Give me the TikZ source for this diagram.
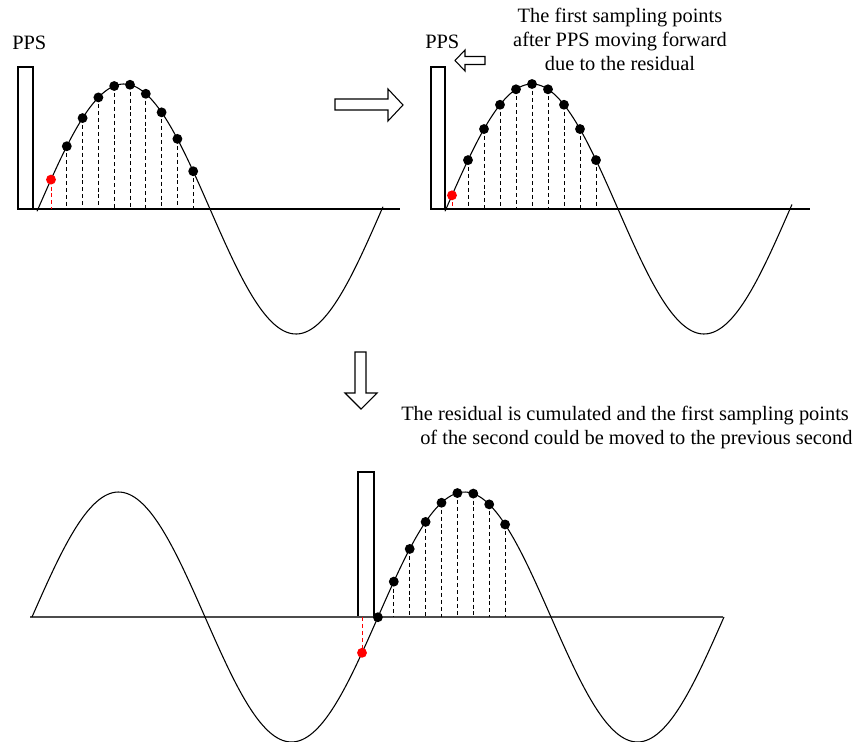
\documentclass[tikz,border=0pt]{standalone}
\usepackage{fontspec}
\setmainfont{Liberation Serif}

\tikzset{
  wave/.style={line width=0.8pt},
  axisline/.style={line width=0.9pt},
  ppsbox/.style={draw, line width=0.8pt},
  sampleline/.style={dash pattern=on 3pt off 2.2pt, line width=0.7pt},
  blockarrow/.style={draw, line width=0.8pt, fill=white},
  lbl/.style={font=\fontsize{15.3}{18}\selectfont, inner sep=0pt, anchor=base},
}

\begin{document}
\begin{tikzpicture}[x=0.75pt, y=-0.75pt]
    \useasboundingbox (0,0) rectangle (854,742);

    \node[lbl, anchor=base west] (pps1) at (12,50) {PPS};
    \draw[ppsbox] (18,67) rectangle (33,209);
    \draw[axisline] (18,209) -- (400,209);
    \draw[wave] plot[domain=37:383, samples=150, smooth] (\x,{209-125*sin((\x-38)*1.04651)});
    \foreach \k in {0,...,9} {
      \pgfmathsetmacro{\px}{51+15.8*\k}
      \coordinate (tl\k) at (\px,{209-125*sin((\px-38)*1.04651)});
      \coordinate (tlb\k) at (\px,209);
    }
    \foreach \k in {1,...,9} \draw[sampleline] (tl\k) -- (tlb\k);
    \foreach \k in {1,...,9} \fill (tl\k) circle (3.7pt);
    \draw[sampleline, red] (tl0) -- (tlb0);
    \fill[red] (tl0) circle (3.7pt);

    \draw[blockarrow] (335,99) -- (388,99) -- (388,89) -- (403,105) -- (388,121) -- (388,110) -- (335,110) -- cycle;

    \node[lbl, anchor=base west] (pps2) at (425,49) {PPS};
    \draw[blockarrow] (485,56.5) -- (465,56.5) -- (465,50) -- (455,60.5) -- (465,71) -- (465,64.5) -- (485,64.5) -- cycle;
    \node[lbl] (note1) at (620,23) {The first sampling points};
    \node[lbl] (note2) at (620,47) {after PPS moving forward};
    \node[lbl] (note3) at (620,71) {due to the residual};
    \draw[ppsbox] (431,67) rectangle (445,209);
    \draw[axisline] (431,209) -- (810,209);
    \draw[wave] plot[domain=445:792, samples=150, smooth] (\x,{209-125*sin((\x-446)*1.04651)});
    \foreach \k in {0,...,9} {
      \pgfmathsetmacro{\px}{452+16*\k}
      \coordinate (tr\k) at (\px,{209-125*sin((\px-446)*1.04651)});
      \coordinate (trb\k) at (\px,209);
    }
    \foreach \k in {1,...,9} \draw[sampleline] (tr\k) -- (trb\k);
    \foreach \k in {1,...,9} \fill (tr\k) circle (3.7pt);
    \draw[sampleline, red] (tr0) -- (trb0);
    \fill[red] (tr0) circle (3.7pt);

    \draw[blockarrow] (355,352) -- (366,352) -- (366,393) -- (377,393) -- (361,409) -- (345,393) -- (355,393) -- cycle;
    \node[lbl, anchor=base west] (note4) at (401,420) {The residual is cumulated and the first sampling points};
    \node[lbl, anchor=base west] (note5) at (420,444) {of the second could be moved to the previous second};

    \draw[ppsbox] (358,472) rectangle (374,617);
    \draw[axisline, black!70] (30,617) -- (723,617);
    \draw[wave] plot[domain=32:724, samples=250, smooth] (\x,{617-125*sin((\x-32)*1.04046)});
    \foreach \k in {0,...,9} {
      \pgfmathsetmacro{\px}{362+15.9*\k}
      \coordinate (bt\k) at (\px,{617-125*sin((\px-32)*1.04046)});
      \coordinate (btb\k) at (\px,617);
    }
    \foreach \k in {2,...,9} \draw[sampleline] (bt\k) -- (btb\k);
    \foreach \k in {1,...,9} \fill (bt\k) circle (3.7pt);
    \draw[sampleline, red] (btb0) -- (bt0);
    \fill[red] (bt0) circle (3.7pt);
\end{tikzpicture}
\end{document}
